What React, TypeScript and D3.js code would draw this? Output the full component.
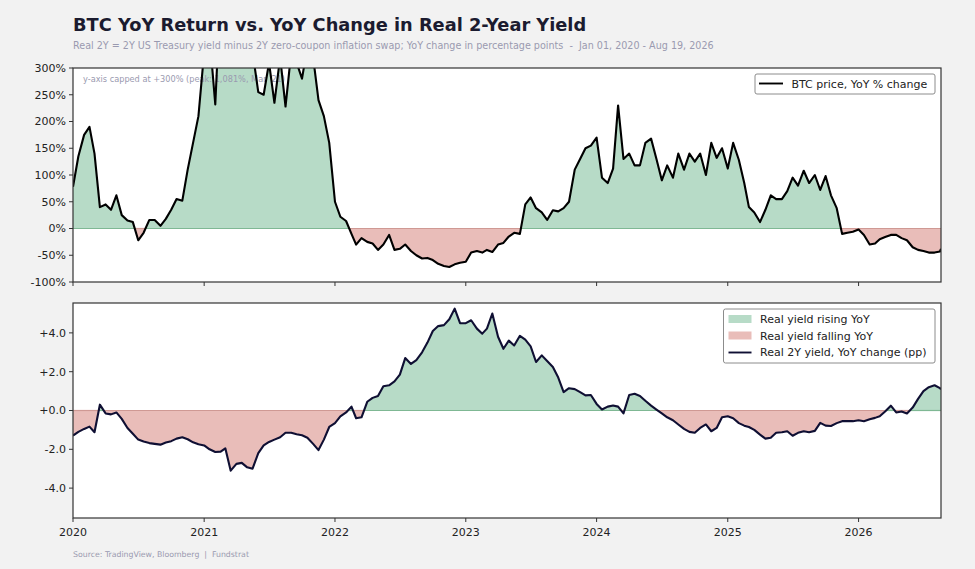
import React from "react";
import * as d3 from "d3";

// ---- data (semi-monthly samples: 1st and 16th of each month, plus final day) ----
const START_DATE = new Date(2020, 0, 1);
const END_DATE = new Date(2026, 7, 19);

const btcYoY = [
  // 2020
  78, 135, 175, 190, 140, 40, 45, 35, 62, 25, 15, 12, -22, -8, 16, 16, 5, 18, 35, 55, 52, 110, 160, 210,
  // 2021
  330, 360, 232, 450, 800, 1081, 900, 750, 550, 330, 255, 250, 310, 235, 320, 228, 330, 310, 280, 340, 320, 240, 210, 160,
  // 2022
  50, 22, 14, -10, -30, -18, -25, -28, -40, -30, -12, -40, -38, -30, -42, -50, -56, -55, -59, -66, -70, -72, -67, -64,
  // 2023
  -62, -45, -42, -45, -40, -44, -30, -27, -15, -8, -10, 45, 58, 38, 30, 16, 34, 32, 38, 50, 110, 130, 150, 155,
  // 2024
  170, 95, 85, 112, 230, 130, 140, 118, 118, 160, 168, 130, 90, 118, 95, 140, 110, 140, 125, 140, 100, 160, 132, 150,
  // 2025
  112, 160, 128, 85, 40, 30, 12, 35, 62, 55, 55, 70, 95, 80, 108, 85, 100, 72, 98, 62, 38, -10, -8, -6,
  // 2026
  -2, -12, -30, -28, -20, -16, -12, -12, -18, -22, -35, -40, -42, -45, -45, -43, -38,
];

const realYieldChange = [
  // 2020
  -1.29, -1.1, -0.95, -0.83, -1.12, 0.3, -0.15, -0.2, -0.1, -0.43, -0.9, -1.2, -1.5, -1.6, -1.68, -1.72, -1.76, -1.65, -1.58, -1.45, -1.38, -1.48, -1.64, -1.74,
  // 2021
  -1.8, -2.0, -2.14, -2.12, -1.95, -3.1, -2.75, -2.7, -2.93, -3.0, -2.2, -1.8, -1.62, -1.5, -1.38, -1.15, -1.15, -1.22, -1.28, -1.4, -1.72, -2.04, -1.5, -0.85,
  // 2022
  -0.65, -0.3, -0.1, 0.2, -0.4, -0.35, 0.45, 0.65, 0.75, 1.25, 1.3, 1.5, 1.85, 2.7, 2.4, 2.6, 3.0, 3.5, 4.1, 4.35, 4.4, 4.7, 5.25, 4.5,
  // 2023
  4.5, 4.65, 4.22, 3.96, 4.22, 5.0, 3.8, 3.18, 3.6, 3.35, 3.85, 3.65, 3.3, 2.5, 2.84, 2.55, 2.24, 1.7, 0.95, 1.15, 1.1, 0.95, 0.78, 0.8,
  // 2024
  0.34, 0.05, 0.2, 0.26, 0.2, -0.15, 0.8, 0.86, 0.75, 0.5, 0.25, 0.05, -0.15, -0.35, -0.5, -0.72, -0.95, -1.1, -1.15, -0.9, -0.72, -1.07, -0.9, -0.35,
  // 2025
  -0.3, -0.4, -0.65, -0.78, -0.85, -1.0, -1.24, -1.45, -1.4, -1.15, -1.12, -1.07, -1.3, -1.15, -1.07, -1.12, -1.05, -0.64, -0.78, -0.8, -0.65, -0.55, -0.55, -0.55,
  // 2026
  -0.5, -0.55, -0.45, -0.38, -0.3, -0.05, 0.25, -0.1, -0.05, -0.15, 0.15, 0.6, 1.0, 1.2, 1.3, 1.15, 1.1,
];

const btcTicks = [300, 250, 200, 150, 100, 50, 0, -50, -100];
const yieldTicks = [4, 2, 0, -2, -4];
const yearTicks = [2020, 2021, 2022, 2023, 2024, 2025, 2026];

const TITLE = "BTC YoY Return vs. YoY Change in Real 2-Year Yield";
const SUBTITLE =
  "Real 2Y = 2Y US Treasury yield minus 2Y zero-coupon inflation swap; YoY change in percentage points  -  Jan 01, 2020 - Aug 19, 2026";
const NOTE = "y-axis capped at +300% (peak: 1,081%, Mar '21)";
const SOURCE = "Source: TradingView, Bloomberg  |  Fundstrat";
const LEGEND_TOP = "BTC price, YoY % change";
const LEGEND_BOTTOM = ["Real yield rising YoY", "Real yield falling YoY", "Real 2Y yield, YoY change (pp)"];

// ---- styles ----
const FONT = "'DejaVu Sans', sans-serif";
const GREEN = "#b7dbc7";
const GREEN_EDGE = "#7fb894";
const RED = "#e9bdb9";
const RED_EDGE = "#cf9994";
const FRAME = "#333333";
const TICK_TEXT = "#222222";
const MUTED = "#9a9ab0";

function buildDates(): Date[] {
  const out: Date[] = [];
  for (let m = 0; ; m++) {
    const d1 = new Date(2020, m, 1);
    if (d1 > END_DATE) break;
    out.push(d1);
    const d16 = new Date(2020, m, 16);
    if (d16 > END_DATE) break;
    out.push(d16);
  }
  out.push(END_DATE);
  return out;
}

type Pt = { d: Date; v: number };

function signSegments(pts: Pt[]) {
  const segs: { a: Date; b: Date; pos: boolean }[] = [];
  let segStart = pts[0].d;
  let pos = pts[0].v >= 0;
  for (let i = 0; i < pts.length - 1; i++) {
    const p0 = pts[i];
    const p1 = pts[i + 1];
    const s1 = p1.v >= 0;
    if (s1 !== pos) {
      const t = p0.v / (p0.v - p1.v);
      const cd = new Date(p0.d.getTime() + t * (p1.d.getTime() - p0.d.getTime()));
      segs.push({ a: segStart, b: cd, pos });
      segStart = cd;
      pos = s1;
    }
  }
  segs.push({ a: segStart, b: pts[pts.length - 1].d, pos });
  return segs;
}

export default function App() {
  const W = 975;
  const H = 569;
  const left = 73;
  const right = 941;
  const top1 = 68;
  const bot1 = 282;
  const top2 = 303;
  const bot2 = 518;

  const dates = buildDates();
  const btc: Pt[] = dates.map((d, i) => ({ d, v: btcYoY[i] }));
  const yld: Pt[] = dates.map((d, i) => ({ d, v: realYieldChange[i] }));

  const x = d3.scaleTime().domain([START_DATE, END_DATE]).range([left, right]);
  const y1 = d3.scaleLinear().domain([-100, 300]).range([bot1, top1]);
  const y2 = d3.scaleLinear().domain([-5.54, 5.54]).range([bot2, top2]);

  const panel = (
    id: string,
    pts: Pt[],
    y: d3.ScaleLinear<number, number>,
    top: number,
    bot: number,
    lineColor: string,
    ticks: number[],
    fmt: (v: number) => string
  ) => {
    const area = d3
      .area<Pt>()
      .x((p) => x(p.d))
      .y0(y(0))
      .y1((p) => y(p.v));
    const line = d3
      .line<Pt>()
      .x((p) => x(p.d))
      .y((p) => y(p.v));
    const segs = signSegments(pts);
    const zy = y(0);
    return (
      <g>
        <defs>
          <clipPath id={`${id}-plot`}>
            <rect x={left} y={top} width={right - left} height={bot - top} />
          </clipPath>
          <clipPath id={`${id}-pos`}>
            <rect x={left} y={top} width={right - left} height={zy - top} />
          </clipPath>
          <clipPath id={`${id}-neg`}>
            <rect x={left} y={zy} width={right - left} height={bot - zy} />
          </clipPath>
        </defs>
        <rect x={left} y={top} width={right - left} height={bot - top} fill="#ffffff" />
        <g clipPath={`url(#${id}-plot)`}>
          <path d={area(pts) || ""} fill={GREEN} clipPath={`url(#${id}-pos)`} />
          <path d={area(pts) || ""} fill={RED} clipPath={`url(#${id}-neg)`} />
          {segs.map((s, i) => (
            <line
              key={i}
              x1={x(s.a)}
              x2={x(s.b)}
              y1={zy}
              y2={zy}
              stroke={s.pos ? GREEN_EDGE : RED_EDGE}
              strokeWidth={1.2}
            />
          ))}
          {id === "top" && (
            <text x={left + 10} y={top + 13.5} fontFamily={FONT} fontSize={8.2} fill={MUTED}>
              {NOTE}
            </text>
          )}
          <path
            d={line(pts) || ""}
            fill="none"
            stroke={lineColor}
            strokeWidth={2.1}
            strokeLinejoin="round"
          />
        </g>
        <rect
          x={left}
          y={top}
          width={right - left}
          height={bot - top}
          fill="none"
          stroke={FRAME}
          strokeWidth={1.2}
        />
        {ticks.map((t) => (
          <g key={t}>
            <line x1={left - 4} x2={left} y1={y(t)} y2={y(t)} stroke={FRAME} strokeWidth={1} />
            <text
              x={left - 7}
              y={y(t)}
              dy="0.36em"
              textAnchor="end"
              fontFamily={FONT}
              fontSize={11}
              fill={TICK_TEXT}
            >
              {fmt(t)}
            </text>
          </g>
        ))}
        {yearTicks.map((yr) => {
          const xx = x(new Date(yr, 0, 1));
          return <line key={yr} x1={xx} x2={xx} y1={bot} y2={bot + 4} stroke={FRAME} strokeWidth={1} />;
        })}
      </g>
    );
  };

  return (
    <div style={{ position: "absolute", left: 0, top: 0, width: W, height: H }}>
      <svg width={W} height={H} viewBox={`0 0 ${W} ${H}`} style={{ display: "block" }}>
        <rect x={0} y={0} width={W} height={H} fill="#f2f2f2" />
        <text x={left} y={31} fontFamily={FONT} fontWeight="bold" fontSize={17.8} fill="#1b1b2f">
          {TITLE}
        </text>
        <text
          x={left}
          y={48.5}
          fontFamily={FONT}
          fontSize={9.6}
          fill={MUTED}
          style={{ whiteSpace: "pre" }}
        >
          {SUBTITLE}
        </text>

        {panel("top", btc, y1, top1, bot1, "#000000", btcTicks, (v) => `${v}%`)}
        {panel("bot", yld, y2, top2, bot2, "#0f0f33", yieldTicks, (v) =>
          v >= 0 ? `+${v.toFixed(1)}` : `-${Math.abs(v).toFixed(1)}`
        )}

        {yearTicks.map((yr) => (
          <text
            key={yr}
            x={x(new Date(yr, 0, 1))}
            y={bot2 + 18}
            textAnchor="middle"
            fontFamily={FONT}
            fontSize={11}
            fill={TICK_TEXT}
          >
            {yr}
          </text>
        ))}

        {/* top legend */}
        <g>
          <rect x={755} y={74} width={180} height={20} rx={2} fill="#ffffff" stroke="#8c8c8c" strokeWidth={1} />
          <line x1={759} x2={783} y1={83.5} y2={83.5} stroke="#000000" strokeWidth={1.9} />
          <text x={791.5} y={87.5} fontFamily={FONT} fontSize={11} fill={TICK_TEXT}>
            {LEGEND_TOP}
          </text>
        </g>

        {/* bottom legend */}
        <g>
          <rect x={723.5} y={309} width={211.5} height={54} rx={2} fill="#ffffff" stroke="#8c8c8c" strokeWidth={1} />
          <rect x={728.5} y={315} width={23} height={8} fill={GREEN} />
          <rect x={728.5} y={331.5} width={23} height={8} fill={RED} />
          <line x1={728.5} x2={751.5} y1={352.5} y2={352.5} stroke="#0f0f33" strokeWidth={1.9} />
          {LEGEND_BOTTOM.map((t, i) => (
            <text key={t} x={760} y={323 + i * 16.6} fontFamily={FONT} fontSize={11} fill={TICK_TEXT}>
              {t}
            </text>
          ))}
        </g>

        <text
          x={left}
          y={556.5}
          fontFamily={FONT}
          fontSize={7.8}
          fill={MUTED}
          style={{ whiteSpace: "pre" }}
        >
          {SOURCE}
        </text>
      </svg>
    </div>
  );
}
